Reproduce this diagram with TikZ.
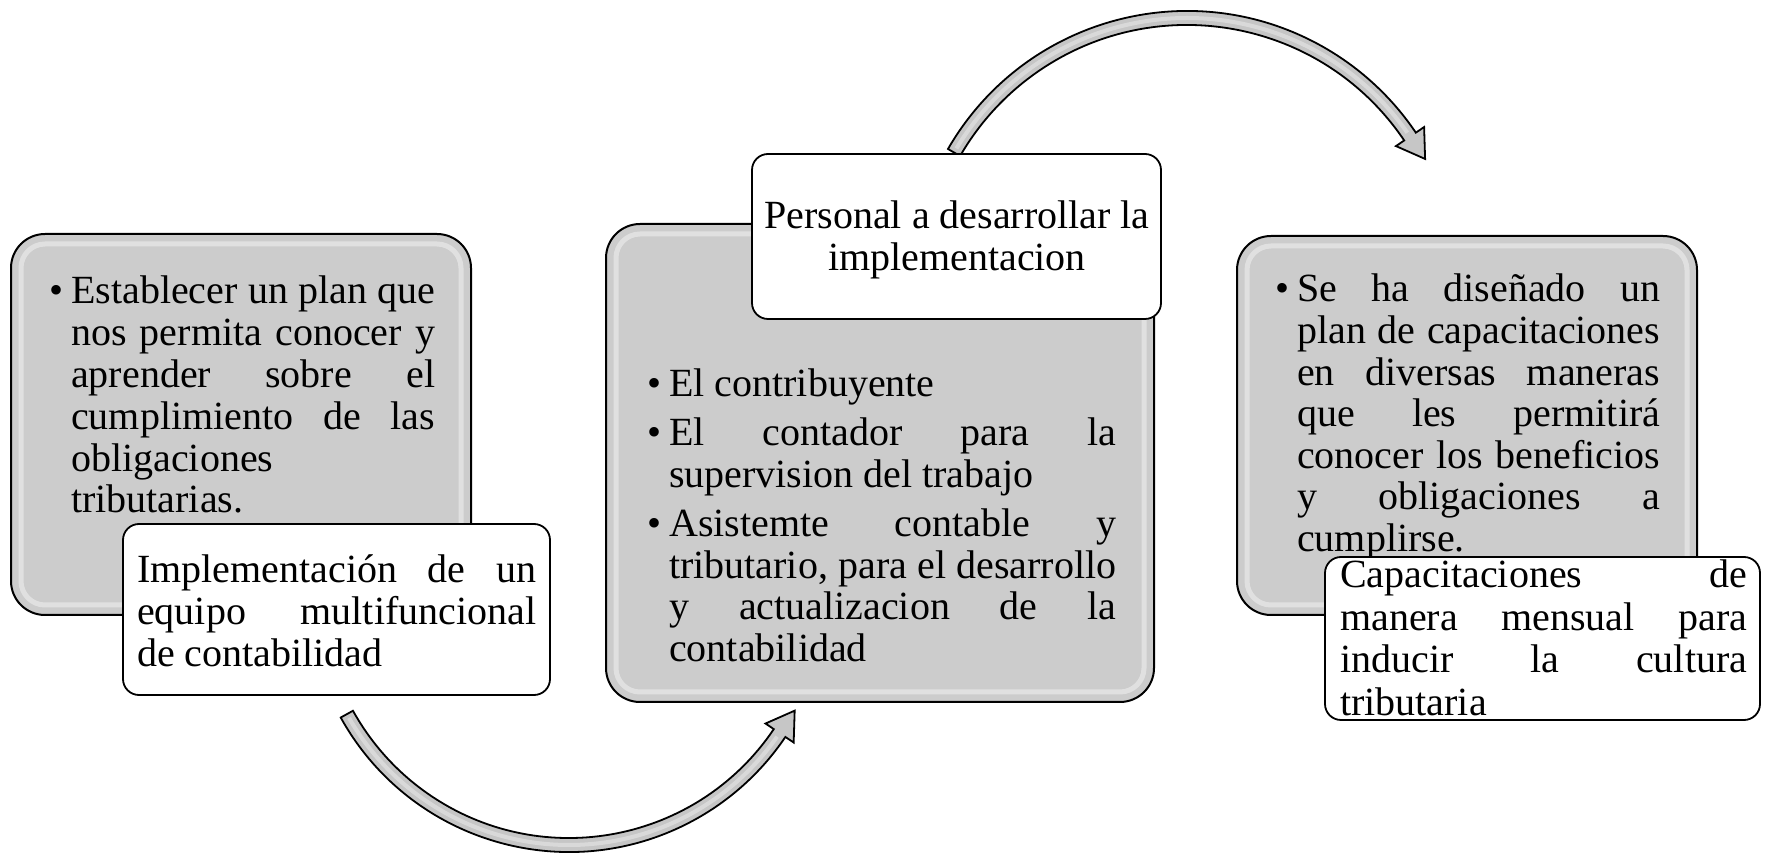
\documentclass[tikz,border=0pt]{standalone}
\usepackage{fontspec}
\setmainfont{Liberation Serif}
\usetikzlibrary{calc}
\definecolor{boxgray}{RGB}{204,204,204}
\definecolor{arrowgray}{RGB}{198,198,198}
\newcommand\jl[1]{\hbox to\hsize{#1}}
\newcommand\lastl[1]{\hbox{#1}}
\newcommand\bul{\llap{\textbullet\hskip 8pt}}
\newcommand\tblock[3][41.8pt]{\vtop{\hsize=#2\relax\baselineskip=#1\relax\lineskiplimit=-100pt\lineskip=0pt\hbadness=10000\hfuzz=2pt #3}}
\tikzset{
  graybox/.style={draw=black, line width=2pt, fill=boxgray, rounded corners=34pt, inner sep=0pt},
  whitebox/.style={draw=black, line width=1.8pt, fill=white, rounded corners=16pt, inner sep=0pt},
  txt/.style={inner sep=0pt, anchor=base west, font=\fontsize{40}{41.8}\selectfont},
  hl/.style={draw=white, draw opacity=0.4, line width=5pt, rounded corners=24pt},
  arrowshape/.style={draw=black, line width=1.8pt, fill=arrowgray, line join=miter},
  arrowhl/.style={draw=white, draw opacity=0.35, line width=4pt},
}
\begin{document}
\begin{tikzpicture}[x=1pt,y=1pt]
\useasboundingbox (0,0) rectangle (1767,854);

% bottom curved arrow
\coordinate (C1) at (569,263);
\draw[arrowshape] ($(C1)+(209:261)$) arc[start angle=209, end angle=326, radius=261pt]
  -- ($(C1)+(326:271)$) -- ($(C1)+(326:254)+(56:27)$) -- ($(C1)+(326:237)$)
  -- ($(C1)+(326:247)$) arc[start angle=326, end angle=209, radius=247pt] -- cycle;
\draw[arrowhl] ($(C1)+(210:254)$) arc[start angle=210, end angle=325, radius=254pt];

% top curved arrow
\coordinate (C2) at (1187,567);
\draw[arrowshape] ($(C2)+(150:276)$) arc[start angle=150, end angle=34, radius=276pt]
  -- ($(C2)+(34:286)$) -- ($(C2)+(34:269)+(-56:27)$) -- ($(C2)+(34:252)$)
  -- ($(C2)+(34:262)$) arc[start angle=34, end angle=150, radius=262pt] -- cycle;
\draw[arrowhl] ($(C2)+(149:269)$) arc[start angle=149, end angle=35, radius=269pt];

% box 1
\node[graybox, minimum width=460pt, minimum height=381pt] (g1) at (241,429.5) {};
\draw[hl] ($(g1.south west)+(11,11)$) rectangle ($(g1.north east)+(-11,-11)$);
\node[txt] (t1) at (71,550) {\tblock{364pt}{%
\jl{\bul Establecer un plan que}
\jl{nos permita conocer y}
\jl{aprender sobre el}
\jl{cumplimiento de las}
\lastl{obligaciones}
\lastl{tributarias.}}};
\node[whitebox, minimum width=427pt, minimum height=171pt] (w1) at (336.5,244.5) {};
\node[txt] (tw1) at (137,271) {\tblock{399pt}{%
\jl{Implementación de un}
\jl{equipo multifuncional}
\lastl{de contabilidad}}};

% box 2
\node[graybox, minimum width=548pt, minimum height=478pt] (g2) at (880,391) {};
\draw[hl] ($(g2.south west)+(11,11)$) rectangle ($(g2.north east)+(-11,-11)$);
\node[txt] (t2) at (669,457) {\tblock{447pt}{%
\lastl{\bul El contribuyente}
\vskip7pt
\jl{\bul El contador para la}
\lastl{supervision del trabajo}
\vskip7pt
\jl{\bul Asistemte contable y}
\jl{tributario, para el desarrollo}
\jl{y actualizacion de la}
\lastl{contabilidad}}};
\node[whitebox, minimum width=409pt, minimum height=165pt] (w2) at (956.5,617.5) {};
\node[txt, anchor=base] (tw2) at (957,625) {\tblock{420pt}{%
\hbox to\hsize{\hfil Personal a desarrollar la\hfil}
\hbox to\hsize{\hfil implementacion\hfil}}};

% box 3
\node[graybox, minimum width=460pt, minimum height=379pt] (g3) at (1467,428.5) {};
\draw[hl] ($(g3.south west)+(11,11)$) rectangle ($(g3.north east)+(-11,-11)$);
\node[txt] (t3) at (1297,552) {\tblock[41.6pt]{363pt}{%
\jl{\bul Se ha diseñado un}
\jl{plan de capacitaciones}
\jl{en diversas maneras}
\jl{que les permitirá}
\jl{conocer los beneficios}
\jl{y obligaciones a}
\lastl{cumplirse.}}};
\node[whitebox, minimum width=435pt, minimum height=163pt] (w3) at (1542.5,215.5) {};
\node[txt] (tw3) at (1340,266) {\tblock[42.5pt]{407pt}{%
\jl{Capacitaciones de}
\jl{manera mensual para}
\jl{inducir la cultura}
\lastl{tributaria}}};
\end{tikzpicture}
\end{document}
